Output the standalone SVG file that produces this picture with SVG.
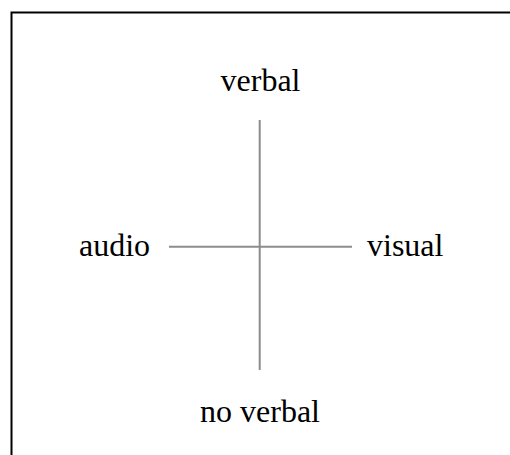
<svg xmlns="http://www.w3.org/2000/svg" width="510" height="455" viewBox="0 0 510 455">
<style>
.lbl{font-family:"Liberation Serif","Times New Roman",serif;font-size:32px;fill:#000}
.axis{stroke:#8c8c8c;stroke-width:2;fill:none}
.frame{stroke:#000;stroke-width:2;fill:none}
</style>
<rect width="510" height="455" fill="#fff"/>
<path class="frame" d="M11.5,460 V12.5 H515"/>
<g id="connectors">
<line class="axis" x1="169" y1="246.7" x2="352" y2="246.7"/>
<line class="axis" x1="259.7" y1="120" x2="259.7" y2="370"/>
</g>
<g id="verbal"><text class="lbl" x="260.5" y="91" text-anchor="middle">verbal</text></g>
<g id="audio"><text class="lbl" x="79" y="256">audio</text></g>
<g id="visual"><text class="lbl" x="367" y="256">visual</text></g>
<g id="no-verbal"><text class="lbl" x="260" y="422" text-anchor="middle">no verbal</text></g>
</svg>
